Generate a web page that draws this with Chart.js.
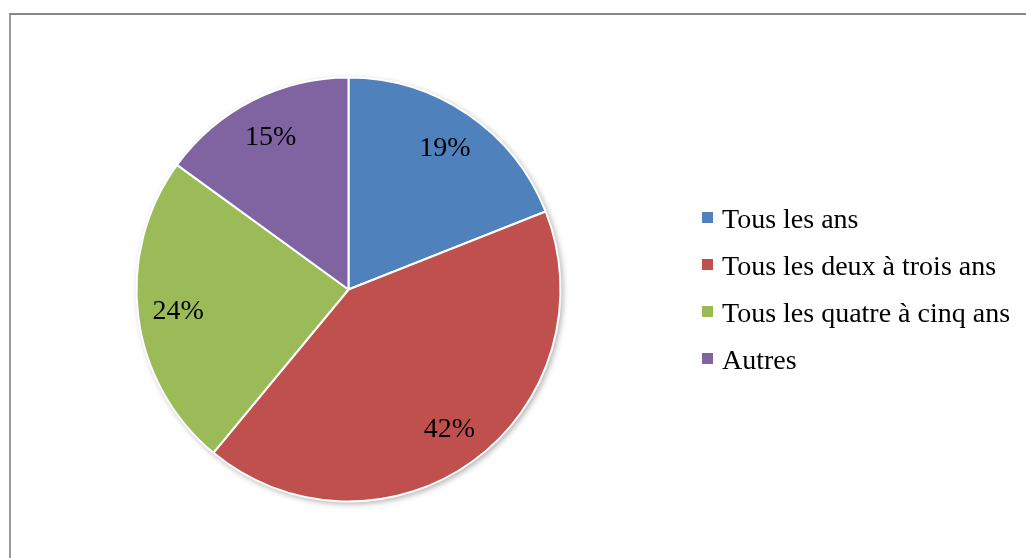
<!DOCTYPE html>
<html>
<head>
<meta charset="utf-8">
<script src="https://cdn.jsdelivr.net/npm/chart.js@4/dist/chart.umd.min.js"></script>
<style>
  html, body { margin: 0; padding: 0; background: #fff; }
  #wrap { position: relative; width: 1026px; height: 558px; overflow: hidden; }
  #frame { position: absolute; left: 9px; top: 13px; width: 1100px; height: 700px;
           border-left: 2px solid #9a9a9a; border-top: 2px solid #888; box-sizing: border-box; }
  canvas { position: absolute; left: 0; top: 0; }
</style>
</head>
<body>
<div id="wrap">
  <div id="frame"></div>
  <canvas id="c" width="1026" height="558"></canvas>
</div>
<script>
const categories = ["Tous les ans", "Tous les deux à trois ans", "Tous les quatre à cinq ans", "Autres"];
const values = [19, 42, 24, 15];
const colors = ["#4F81BD", "#C0504D", "#9BBB59", "#8064A2"];

const FONT = '28px "Liberation Serif", "Times New Roman", serif';

const shadowPlugin = {
  id: 'pieShadow',
  beforeDatasetsDraw(chart) {
    const arc = chart.getDatasetMeta(0).data[0];
    if (!arc) return;
    const ctx = chart.ctx;
    ctx.save();
    ctx.shadowColor = 'rgba(0,0,0,0.35)';
    ctx.shadowBlur = 6;
    ctx.shadowOffsetX = 2;
    ctx.shadowOffsetY = 2;
    ctx.fillStyle = '#ffffff';
    ctx.beginPath();
    ctx.arc(arc.x, arc.y, arc.outerRadius, 0, Math.PI * 2);
    ctx.fill();
    ctx.restore();
  }
};

const labelPlugin = {
  id: 'sliceLabels',
  afterDatasetsDraw(chart) {
    const ctx = chart.ctx;
    const meta = chart.getDatasetMeta(0);
    ctx.save();
    ctx.font = FONT;
    ctx.fillStyle = '#000';
    ctx.textAlign = 'center';
    ctx.textBaseline = 'middle';
    meta.data.forEach((arc, i) => {
      const mid = (arc.startAngle + arc.endAngle) / 2;
      const r = arc.outerRadius * 0.81;
      const x = arc.x + Math.cos(mid) * r;
      const y = arc.y + Math.sin(mid) * r + 1;
      ctx.fillText(chart.data.datasets[0].data[i] + '%', x, y);
    });
    ctx.restore();
  }
};

const legendPlugin = {
  id: 'sideLegend',
  afterDraw(chart) {
    const ctx = chart.ctx;
    ctx.save();
    ctx.font = FONT;
    ctx.textBaseline = 'alphabetic';
    ctx.textAlign = 'left';
    const x0 = 702, baseY = 228, step = 47;
    chart.data.labels.forEach((lab, i) => {
      const by = baseY + i * step;
      ctx.fillStyle = chart.data.datasets[0].backgroundColor[i];
      ctx.fillRect(x0, by - 16, 11, 11);
      ctx.fillStyle = '#000';
      ctx.fillText(lab, x0 + 20, by);
    });
    ctx.restore();
  }
};

new Chart(document.getElementById('c'), {
  type: 'pie',
  data: {
    labels: categories,
    datasets: [{
      data: values,
      backgroundColor: colors,
      borderColor: '#ffffff',
      borderWidth: 2
    }]
  },
  options: {
    responsive: false,
    animation: false,
    radius: 212,
    layout: { padding: { left: 0, right: 329, top: 21, bottom: 0 } },
    plugins: { legend: { display: false }, tooltip: { enabled: false } }
  },
  plugins: [shadowPlugin, labelPlugin, legendPlugin]
});
</script>
</body>
</html>
